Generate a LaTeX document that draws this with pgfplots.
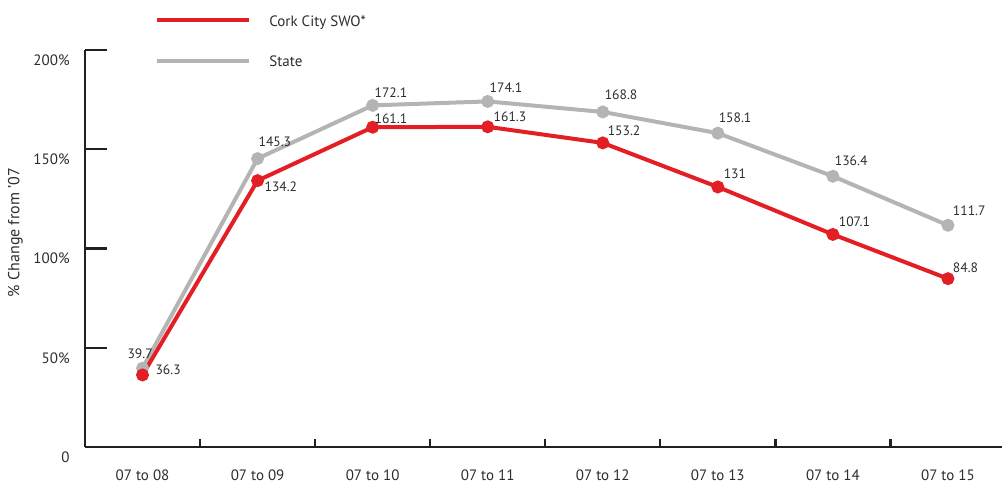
\documentclass[border=0pt]{standalone}
\usepackage{fontspec}
\setmainfont{PT Sans}
\usepackage{pgfplots}
\usepackage{pgfplotstable}
\pgfplotsset{compat=1.18}
\definecolor{corkred}{RGB}{227,30,36}
\definecolor{stategray}{RGB}{180,180,180}
\definecolor{axisblack}{RGB}{35,31,32}
\definecolor{txt}{RGB}{45,45,45}

\pgfplotstableread{
x y dx dy lab
0 39.7 -8.5 4 39.7
1 145.3 -0.5 5 145.3
2 172.1 0 3 172.1
3 174.1 0 3.5 174.1
4 168.8 0 5 168.8
5 158.1 -0.5 4.5 158.1
6 136.4 0 4.5 136.4
7 111.7 1.5 4 111.7
}\statedata

\pgfplotstableread{
x y dx dy lab
0 36.3 5.5 -1 36.3
1 134.2 2.5 -6.5 134.2
2 161.1 0 1 161.1
3 161.3 2 1.5 161.3
4 153.2 1.5 2.5 153.2
5 131 2 3 131
6 107.1 2 3 107.1
7 84.8 1.5 2 84.8
}\corkdata

\pgfplotsset{
  lab/.style={
    nodes near coords,
    point meta=explicit symbolic,
    visualization depends on={\thisrow{dx}\as\labdx},
    visualization depends on={\thisrow{dy}\as\labdy},
    nodes near coords style={anchor=south west, inner sep=0pt, xshift=\labdx*1pt, yshift=\labdy*1pt, text=txt, font=\fontsize{6.8}{8}\selectfont},
  }
}

\begin{document}
\begin{tikzpicture}[font=\fontsize{7.5}{9}\selectfont]
\begin{axis}[
  scale only axis,
  width=458.5pt, height=198.5pt,
  xmin=-0.5, xmax=7.47,
  ymin=0, ymax=200,
  axis x line*=bottom, axis y line*=left,
  axis line style={axisblack, line width=1.2pt},
  /pgf/number format/assume math mode=true,
  xtick={0,...,7},
  xticklabels={07 to 08,07 to 09,07 to 10,07 to 11,07 to 12,07 to 13,07 to 14,07 to 15},
  minor xtick={0.5,1.5,...,6.5},
  major x tick style={draw=none},
  minor x tick style={axisblack, line width=1.2pt},
  minor tick length=4pt,
  major tick length=11pt,
  ytick={0,50,100,150,200},
  yticklabels={0,50\%,100\%,150\%,200\%},
  major y tick style={axisblack, line width=1.2pt},
  tick align=inside,
  xticklabel style={anchor=north, inner sep=0pt, yshift=-11pt, text=txt, font=\fontsize{7.5}{9}\selectfont},
  yticklabel style={anchor=east, inner sep=0pt, xshift=-7.5pt, yshift=-5pt, text=txt, font=\fontsize{7.5}{9}\selectfont},
  ylabel={\% Change from '07},
  ylabel style={at={(axis description cs:-0.076,0.54)}, anchor=center, text=txt, font=\fontsize{8}{9.6}\selectfont},
  reverse legend,
  legend cell align=left,
  legend style={at={(rel axis cs:0.0763,1)}, yshift=17.5pt, anchor=north west, draw=none, fill=none,
    inner sep=0pt, row sep=13.5pt, column sep=9pt, nodes={inner sep=0pt, text=txt},
    font=\fontsize{7.5}{9}\selectfont},
  legend image code/.code={\draw[#1, line width=2pt] (-1.5pt,1.2pt) -- (44.5pt,1.2pt);},
]
\addplot[stategray, line width=2pt, mark=*, mark size=2.2pt, mark options={draw=none, fill=stategray}, lab]
  table[x=x, y=y, meta=lab] {\statedata};
\addlegendentry{State}
\addplot[corkred, line width=2pt, mark=*, mark size=2.2pt, mark options={draw=none, fill=corkred}, lab]
  table[x=x, y=y, meta=lab] {\corkdata};
\addlegendentry{Cork City SWO*}
\end{axis}
\pgfresetboundingbox
\path[use as bounding box] (current axis.south west) ++(-42.5pt,-18pt) rectangle ++(502pt,241.5pt);
\end{tikzpicture}
\end{document}
